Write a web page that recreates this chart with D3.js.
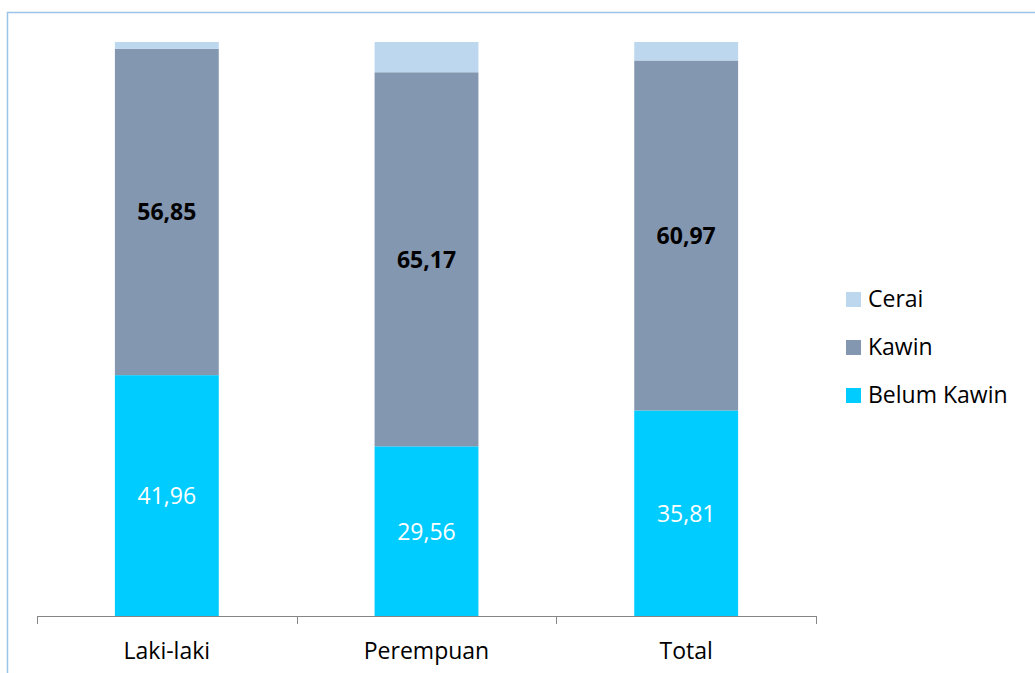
<!DOCTYPE html>
<html>
<head>
<meta charset="utf-8">
<script src="https://cdn.jsdelivr.net/npm/d3@7"></script>
<style>
  html, body { margin: 0; padding: 0; background: #fff; }
  svg { display: block; font-family: "Open Sans", "Noto Sans", sans-serif; }
</style>
</head>
<body>
<svg id="chart" width="1035" height="673"></svg>
<script>
// Status perkawinan menurut jenis kelamin (persen)
const categories = ["Laki-laki", "Perempuan", "Total"];
const belumKawin = [41.96, 29.56, 35.81];
const kawin = [56.85, 65.17, 60.97];
const cerai = [1.19, 5.27, 3.22];
const seriesNames = ["Belum Kawin", "Kawin", "Cerai"];
const seriesColors = ["#00CCFF", "#8497B0", "#BDD7EE"];

const svg = d3.select("#chart");

// Chart area frame
svg.append("rect")
  .attr("x", 7.5).attr("y", 12.5)
  .attr("width", 1100).attr("height", 700)
  .attr("fill", "none")
  .attr("stroke", "#9DC3E6")
  .attr("stroke-width", 1.5);

const plotLeft = 37, plotRight = 816, plotTop = 42, plotBottom = 616;

const x = d3.scaleBand()
  .domain(categories)
  .range([plotLeft, plotRight])
  .paddingInner(0.6)
  .paddingOuter(0.3);

const y = d3.scaleLinear()
  .domain([0, 100])
  .range([plotBottom, plotTop]);

const table = categories.map((c, i) => ({
  category: c,
  "Belum Kawin": belumKawin[i],
  "Kawin": kawin[i],
  "Cerai": cerai[i]
}));

const stacked = d3.stack().keys(seriesNames)(table);

const layers = svg.append("g")
  .selectAll("g")
  .data(stacked)
  .join("g")
  .attr("fill", (d, i) => seriesColors[i]);

layers.selectAll("rect")
  .data(d => d)
  .join("rect")
  .attr("x", d => x(d.data.category))
  .attr("width", x.bandwidth())
  .attr("y", d => y(d[1]))
  .attr("height", d => y(d[0]) - y(d[1]));

// Value labels for Belum Kawin (white) and Kawin (bold black)
const labelStyles = [
  { fill: "#FFFFFF", weight: "normal" },
  { fill: "#000000", weight: "bold" }
];
[0, 1].forEach(si => {
  svg.append("g")
    .selectAll("text")
    .data(stacked[si])
    .join("text")
    .attr("x", d => x(d.data.category) + x.bandwidth() / 2)
    .attr("y", d => (y(d[0]) + y(d[1])) / 2 + 8.5)
    .attr("text-anchor", "middle")
    .attr("font-size", 23)
    .attr("font-weight", labelStyles[si].weight)
    .attr("fill", labelStyles[si].fill)
    .text(d => d3.format(".2f")(d[1] - d[0]).replace(".", ","));
});

// Category axis with ticks at band boundaries
const axisG = svg.append("g");
axisG.append("line")
  .attr("x1", plotLeft).attr("x2", plotRight)
  .attr("y1", plotBottom + 0.5).attr("y2", plotBottom + 0.5)
  .attr("stroke", "#868686").attr("stroke-width", 1);
const bounds = categories.map(c => x(c) - x.step() * x.paddingInner() / 2);
bounds[0] = plotLeft;
bounds.push(plotRight);
axisG.selectAll("line.tick")
  .data(bounds)
  .join("line")
  .attr("class", "tick")
  .attr("x1", d => Math.round(d) + 0.5).attr("x2", d => Math.round(d) + 0.5)
  .attr("y1", plotBottom).attr("y2", plotBottom + 8)
  .attr("stroke", "#868686");
axisG.selectAll("text")
  .data(categories)
  .join("text")
  .attr("x", d => x(d) + x.bandwidth() / 2)
  .attr("y", 659)
  .attr("text-anchor", "middle")
  .attr("font-size", 23)
  .attr("fill", "#000")
  .text(d => d);

// Legend (top-down: Cerai, Kawin, Belum Kawin)
const legendOrder = [2, 1, 0];
const legend = svg.append("g")
  .selectAll("g")
  .data(legendOrder)
  .join("g")
  .attr("transform", (d, i) => `translate(846, ${292 + i * 48})`);
legend.append("rect")
  .attr("width", 15).attr("height", 15)
  .attr("fill", d => seriesColors[d]);
legend.append("text")
  .attr("x", 22).attr("y", 15)
  .attr("font-size", 23)
  .attr("fill", "#000")
  .text(d => seriesNames[d]);
</script>
</body>
</html>
